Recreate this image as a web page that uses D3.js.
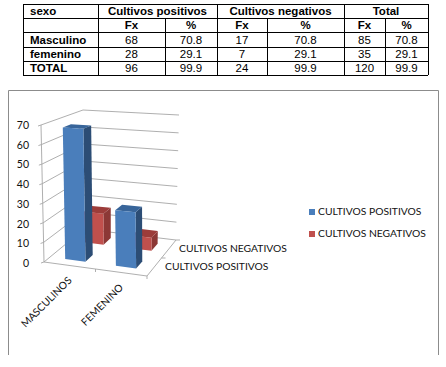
<!DOCTYPE html>
<html>
<head>
<meta charset="utf-8">
<script src="https://cdn.jsdelivr.net/npm/d3@7"></script>
<style>
  body { margin: 0; background: #fff; }
  svg { display: block; }
  .tbl { font-family: "Liberation Sans", Arial, sans-serif; font-size: 11.5px; fill: #000; }
  .cht { font-family: Lato, "Open Sans", sans-serif; font-size: 10.3px; fill: #111; }
</style>
</head>
<body>
<div id="vis"></div>
<script>
// table contents
var headRow1 = ["sexo", "Cultivos positivos", "Cultivos negativos", "Total"];
var headRow2 = ["", "Fx", "%", "Fx", "%", "Fx", "%"];
var tableRows = [
  ["Masculino", "68", "70.8", "17", "70.8", "85", "70.8"],
  ["femenino", "28", "29.1", "7", "29.1", "35", "29.1"],
  ["TOTAL", "96", "99.9", "24", "99.9", "120", "99.9"]
];

// chart data
var categories = ["MASCULINOS", "FEMENINO"];
var seriesNames = ["CULTIVOS POSITIVOS", "CULTIVOS NEGATIVOS"];
var positivos = [68, 28];
var negativos = [17, 7];
var yTicks = [0, 10, 20, 30, 40, 50, 60, 70];

var width = 446, height = 367;

var svg = d3.select("#vis").append("svg")
  .attr("width", width)
  .attr("height", height);

// ---------- table ----------
var colEdges = [23, 98, 165, 217, 267, 344, 385, 428];
var rowEdges = [4, 18, 32, 47, 61, 75];
var headEdges = [23, 98, 217, 344, 428];
var tbl = svg.append("g").attr("class", "tbl");

function cell(x, y, txt, anchor, bold) {
  tbl.append("text")
    .attr("x", x).attr("y", y)
    .attr("dy", "0.36em")
    .attr("text-anchor", anchor)
    .attr("font-weight", bold ? "bold" : "normal")
    .text(txt);
}
function mid(arr, i) { return (arr[i] + arr[i + 1]) / 2; }

headRow1.forEach(function (t, i) {
  if (i == 0) cell(30, mid(rowEdges, 0), t, "start", true);
  else cell(mid(headEdges, i), mid(rowEdges, 0), t, "middle", true);
});
headRow2.forEach(function (t, i) {
  if (i > 0) cell(mid(colEdges, i), mid(rowEdges, 1), t, "middle", true);
});
tableRows.forEach(function (row, r) {
  row.forEach(function (t, i) {
    if (i == 0) cell(30, mid(rowEdges, r + 2), t, "start", true);
    else cell(mid(colEdges, i), mid(rowEdges, r + 2), t, "middle", false);
  });
});

rowEdges.forEach(function (y) {
  svg.append("line").attr("x1", 23).attr("x2", 428).attr("y1", y + 0.5).attr("y2", y + 0.5)
    .attr("stroke", "#000").attr("stroke-width", 1);
});
headEdges.forEach(function (x) {
  svg.append("line").attr("x1", x + 0.5).attr("x2", x + 0.5).attr("y1", 4).attr("y2", 75)
    .attr("stroke", "#000").attr("stroke-width", 1);
});
[165, 267, 385].forEach(function (x) {
  svg.append("line").attr("x1", x + 0.5).attr("x2", x + 0.5).attr("y1", 18).attr("y2", 75)
    .attr("stroke", "#000").attr("stroke-width", 1);
});

// ---------- chart frame (no bottom edge in the picture) ----------
svg.append("path")
  .attr("d", "M8.5,355V90.5H438.5V355")
  .attr("fill", "none")
  .attr("stroke", "#8c8c8c")
  .attr("stroke-width", 1);

// ---------- fake 3d box ----------
// corners of the plot box, front/back, left/right
var box = {
  fl: { bottom: [44, 262], top: [41, 125] },
  fr: { bottom: [147, 276], top: [145, 131] },
  bl: { bottom: [84, 229], top: [83, 110] },
  br: { bottom: [176, 240], top: [179, 115] }
};

var xScale = d3.scaleBand().domain(categories).range([0, 1]).paddingInner(0.6).paddingOuter(0.3);
var zScale = d3.scaleBand().domain(seriesNames).range([0, 1]).paddingInner(0.6).paddingOuter(0.3);
var yScale = d3.scaleLinear().domain([0, 70]).range([0, 1]);

function lerp(a, b, t) { return [a[0] + (b[0] - a[0]) * t, a[1] + (b[1] - a[1]) * t]; }

// u: left to right, d: front to back, v: bottom to top (all 0-1)
function project(u, d, v) {
  var bottom = lerp(lerp(box.fl.bottom, box.fr.bottom, u), lerp(box.bl.bottom, box.br.bottom, u), d);
  var top = lerp(lerp(box.fl.top, box.fr.top, u), lerp(box.bl.top, box.br.top, u), d);
  return lerp(bottom, top, v);
}

var line = d3.line();
var chart = svg.append("g").attr("class", "cht");
var gridColor = "#a6a6a6";

function seg(p1, p2) {
  chart.append("path").attr("d", line([p1, p2]))
    .attr("fill", "none").attr("stroke", gridColor).attr("stroke-width", 0.9);
}

// walls and ticks
yTicks.forEach(function (t) {
  var v = yScale(t);
  seg(project(0, 0, v), project(0, 1, v));
  seg(project(0, 1, v), project(1, 1, v));
  var p = project(0, 0, v);
  seg([p[0] - 3, p[1] + 1], p);
  chart.append("text")
    .attr("x", 29).attr("y", p[1] + (1 - v) * 1.5)
    .attr("dy", "0.36em")
    .attr("text-anchor", "end")
    .style("font-size", "10.5px")
    .text(t);
});
seg(project(0, 0, 0), project(0, 0, 1));
seg(project(0, 0, 0), project(1, 0, 0));
seg(project(1, 0, 0), project(1, 1, 0));
seg(project(0.5, 0, 0), [project(0.5, 0, 0)[0], project(0.5, 0, 0)[1] + 3]);
seg(project(1, 0, 0), [project(1, 0, 0)[0], project(1, 0, 0)[1] + 3]);
seg(project(1, 0.5, 0), [project(1, 0.5, 0)[0] + 4, project(1, 0.5, 0)[1]]);
seg(project(1, 1, 0), [project(1, 1, 0)[0] + 4, project(1, 1, 0)[1]]);

// bars
var colors = [
  { front: "#4a7ebb", side: "#2c4d75", top: "#38659a" },
  { front: "#c0504d", side: "#8c3836", top: "#9c3c3a" }
];

function drawBar(cat, name, val, col) {
  var u0 = xScale(cat), u1 = u0 + xScale.bandwidth();
  var d0 = zScale(name), d1 = d0 + zScale.bandwidth();
  var v = yScale(val);
  var faces = [
    { pts: [project(u1, d0, 0), project(u1, d1, 0), project(u1, d1, v), project(u1, d0, v)], fill: col.side },
    { pts: [project(u0, d0, v), project(u1, d0, v), project(u1, d1, v), project(u0, d1, v)], fill: col.top },
    { pts: [project(u0, d0, 0), project(u1, d0, 0), project(u1, d0, v), project(u0, d0, v)], fill: col.front }
  ];
  chart.selectAll(null).data(faces).enter().append("path")
    .attr("d", function (f) { return line(f.pts) + "Z"; })
    .attr("fill", function (f) { return f.fill; });
}

// back row first so the blue bars cover the red ones
categories.forEach(function (c, i) { drawBar(c, seriesNames[1], negativos[i], colors[1]); });
categories.forEach(function (c, i) { drawBar(c, seriesNames[0], positivos[i], colors[0]); });

// category labels
categories.forEach(function (c) {
  var u = xScale(c) + xScale.bandwidth() / 2;
  var p = project(u, 0, 0);
  chart.append("text")
    .attr("transform", "translate(" + p[0] + "," + (p[1] + 13) + ") rotate(-45)")
    .attr("text-anchor", "end")
    .attr("dy", "0.36em")
    .text(c);
});

// depth labels
chart.append("text").attr("x", 179).attr("y", 248).attr("dy", "0.36em").text(seriesNames[1]);
chart.append("text").attr("x", 165).attr("y", 266).attr("dy", "0.36em").text(seriesNames[0]);

// legend
seriesNames.forEach(function (s, i) {
  var y = 212 + i * 22;
  chart.append("rect").attr("x", 309).attr("y", y - 3).attr("width", 6).attr("height", 6)
    .attr("fill", colors[i].front);
  chart.append("text").attr("x", 318).attr("y", y - 1).attr("dy", "0.36em").text(s);
});
</script>
</body>
</html>
